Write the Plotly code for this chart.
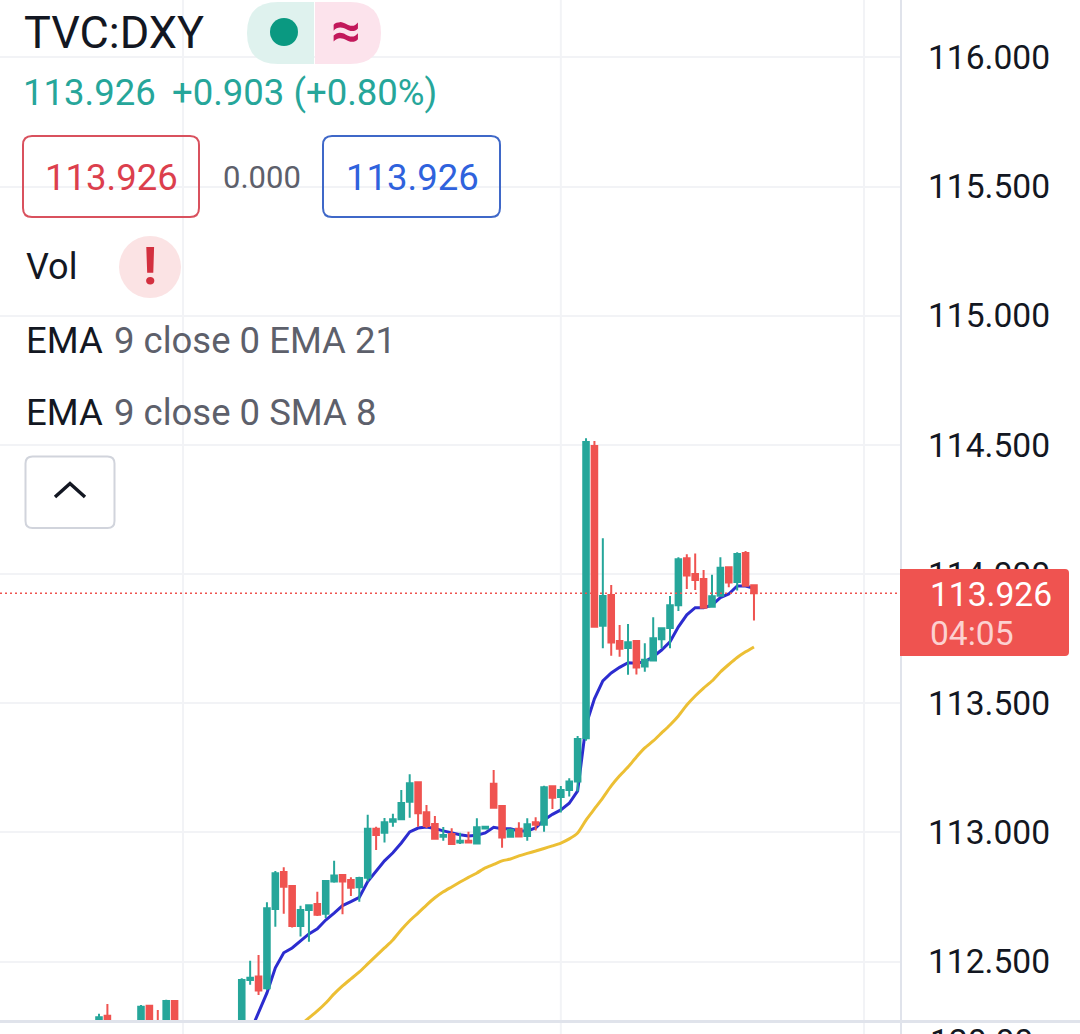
import plotly.graph_objects as go

# chart data
opens = [112.25, 112.29, 112.22, 112.24, 112.21, 112.24, 112.329, 112.26, 112.23, 112.348,
         112.20, 112.19, 112.18, 112.20, 112.18, 112.17, 112.20, 112.20, 112.429, 112.442,
         112.397, 112.704, 112.847, 112.793, 112.638, 112.700, 112.723, 112.685, 112.810, 112.835,
         112.816, 112.788, 112.825, 113.014, 112.999, 113.041, 113.051, 113.119, 113.194, 113.078,
         113.033, 112.983, 112.994, 112.961, 112.968, 112.957, 113.015, 113.188, 113.102, 112.983,
         113.014, 112.986, 113.039, 113.030, 113.179, 113.137, 113.164, 113.197, 113.365, 114.496,
         113.800, 113.919, 113.741, 113.714, 113.741, 113.642, 113.665, 113.748, 113.791, 113.879,
         114.061, 114.000, 113.981, 113.874, 113.916, 114.026, 113.969, 114.082, 113.957]
closes = [112.285, 112.25, 112.24, 112.21, 112.23, 112.325, 112.22, 112.23, 112.348, 112.20,
          112.19, 112.18, 112.20, 112.18, 112.17, 112.20, 112.21, 112.429, 112.438, 112.388,
          112.707, 112.842, 112.790, 112.638, 112.700, 112.718, 112.681, 112.812, 112.833, 112.810,
          112.786, 112.824, 113.014, 112.990, 113.039, 113.051, 113.114, 113.190, 113.074, 113.025,
          112.976, 112.990, 112.955, 112.968, 112.961, 113.020, 113.022, 113.096, 112.980, 113.010,
          112.984, 113.032, 113.030, 113.175, 113.134, 113.164, 113.197, 113.362, 114.511, 113.796,
          113.915, 113.735, 113.711, 113.736, 113.638, 113.668, 113.752, 113.790, 113.879, 114.057,
          113.994, 113.977, 113.870, 113.914, 114.024, 113.967, 114.078, 113.955, 113.926]
highs = [112.298, 112.336, 112.26, 112.26, 112.25, 112.332, 112.332, 112.313, 112.352, 112.35,
         112.24, 112.22, 112.22, 112.23, 112.21, 112.22, 112.24, 112.436, 112.503, 112.526,
         112.730, 112.851, 112.865, 112.797, 112.716, 112.719, 112.770, 112.816, 112.890, 112.836,
         112.827, 112.828, 113.068, 113.022, 113.056, 113.072, 113.164, 113.225, 113.195, 113.106,
         113.064, 113.021, 113.016, 112.999, 113.003, 113.055, 113.025, 113.242, 113.103, 113.015,
         113.039, 113.055, 113.059, 113.181, 113.180, 113.180, 113.210, 113.373, 114.526, 114.515,
         114.139, 113.958, 113.803, 113.807, 113.741, 113.732, 113.833, 113.794, 113.915, 114.065,
         114.077, 114.080, 114.016, 113.997, 114.065, 114.029, 114.084, 114.089, 113.957]
lows = [112.24, 112.24, 112.20, 112.20, 112.19, 112.23, 112.21, 112.22, 112.22, 112.19,
        112.17, 112.16, 112.15, 112.17, 112.15, 112.15, 112.18, 112.19, 112.410, 112.371,
        112.390, 112.635, 112.685, 112.632, 112.597, 112.577, 112.677, 112.669, 112.805, 112.683,
        112.754, 112.732, 112.810, 112.932, 112.961, 113.022, 113.048, 113.057, 113.022, 113.017,
        112.976, 112.968, 112.952, 112.955, 112.958, 112.957, 113.014, 113.094, 112.941, 112.980,
        112.984, 112.968, 113.007, 113.003, 113.091, 113.077, 113.139, 113.158, 113.355, 113.793,
        113.713, 113.684, 113.680, 113.610, 113.611, 113.622, 113.665, 113.713, 113.713, 113.857,
        113.942, 113.938, 113.868, 113.871, 113.912, 113.949, 113.936, 113.954, 113.820]
bars = list(range(len(opens)))

# blue one starts at bar 18, yellow one at bar 24
ema_fast = [112.227, 112.301, 112.379, 112.476, 112.534, 112.553, 112.580, 112.607, 112.627, 112.661,
            112.688, 112.717, 112.732, 112.749, 112.810, 112.851, 112.890, 112.921, 112.959, 113.002,
            113.017, 113.021, 113.015, 113.006, 112.998, 112.991, 112.986, 112.989, 112.998, 113.020,
            113.014, 113.014, 113.006, 113.006, 113.017, 113.048, 113.070, 113.087, 113.113, 113.161,
            113.416, 113.517, 113.587, 113.617, 113.639, 113.657, 113.655, 113.661, 113.680, 113.706,
            113.738, 113.796, 113.842, 113.870, 113.870, 113.880, 113.909, 113.923, 113.954, 113.954,
            113.945]
ema_slow = [112.255, 112.282, 112.309, 112.340, 112.375, 112.406, 112.433, 112.460, 112.491, 112.522,
            112.553, 112.584, 112.623, 112.658, 112.688, 112.719, 112.747, 112.770, 112.789, 112.808,
            112.826, 112.843, 112.863, 112.876, 112.890, 112.897, 112.909, 112.919, 112.928, 112.938,
            112.948, 112.959, 112.975, 112.998, 113.048, 113.091, 113.134, 113.180, 113.219, 113.253,
            113.292, 113.327, 113.354, 113.385, 113.416, 113.451, 113.493, 113.528, 113.559, 113.586,
            113.621, 113.650, 113.677, 113.699, 113.718]

price_ticks = [112.5, 113, 113.5, 114, 114.5, 115, 115.5, 116]
price_labels = ['112.500', '113.000', '113.500', '114.000', '114.500', '115.000', '115.500', '116.000']
time_grid = [10, 55, 91.1]
last_price = 113.926

W, H = 1080, 1034
FONT = 'Roboto'
GREEN = '#26a69a'
RED = '#ef5350'
GRID = '#f2f3f6'
BORDER = '#e0e3eb'
DARK = '#131722'
GREY = '#5d606b'

x_range = [-11.79, 95.39]
y_range = [112.274, 116.222]


def px(x):
    return x / W


def py(y):
    return 1 - y / H


def rounded(x0, y0, x1, y1, tl=0, tr=0, br=0, bl=0):
    # rounded box as a path, given in screen pixels
    def p(x, y):
        return f'{px(x)},{py(y)}'
    return (f'M{p(x0 + tl, y0)} L{p(x1 - tr, y0)} Q{p(x1, y0)} {p(x1, y0 + tr)} '
            f'L{p(x1, y1 - br)} Q{p(x1, y1)} {p(x1 - br, y1)} '
            f'L{p(x0 + bl, y1)} Q{p(x0, y1)} {p(x0, y1 - bl)} '
            f'L{p(x0, y0 + tl)} Q{p(x0, y0)} {p(x0 + tl, y0)} Z')


shapes = []
annotations = []


def box(x0, y0, x1, y1, fill='rgba(0,0,0,0)', line=None, lw=0, **radii):
    shapes.append(dict(type='path', xref='paper', yref='paper', layer='above',
                       path=rounded(x0, y0, x1, y1, **radii), fillcolor=fill,
                       line=dict(color=line or 'rgba(0,0,0,0)', width=lw)))


def circle(cx, cy, r, fill):
    shapes.append(dict(type='circle', xref='paper', yref='paper', layer='above',
                       x0=px(cx - r), x1=px(cx + r), y0=py(cy + r), y1=py(cy - r),
                       fillcolor=fill, line=dict(width=0)))


def text(x, y, s, size, color, anchor='left'):
    annotations.append(dict(xref='paper', yref='paper', x=px(x), y=py(y), text=s,
                            showarrow=False, xanchor=anchor, yanchor='middle',
                            font=dict(family=FONT, size=size, color=color),
                            borderpad=0, align=anchor))


# grid and pane borders
for g in time_grid:
    shapes.append(dict(type='line', xref='x', yref='paper', x0=g, x1=g, y0=0, y1=1,
                       layer='below', line=dict(color=GRID, width=2)))
shapes.append(dict(type='line', xref='paper', yref='paper', x0=0, x1=1, y0=py(1021.5), y1=py(1021.5),
                   layer='above', line=dict(color=BORDER, width=3)))
shapes.append(dict(type='line', xref='paper', yref='paper', x0=px(901), x1=px(901), y0=0, y1=1,
                   layer='above', line=dict(color=BORDER, width=2)))
shapes.append(dict(type='line', xref='paper', yref='y', x0=0, x1=px(900), y0=last_price, y1=last_price,
                   layer='above', line=dict(color=RED, width=1.5, dash='2px,3px')))

# price tag on the axis
box(900, 569, 1069, 656, fill=RED, tr=4, br=4)
text(929, 594, '113.926', 33.6, '#ffffff')
text(929, 633, '04:05', 33.6, '#fcd1d0')
text(929, 1041, '120.00', 33.6, DARK)

# header
text(23, 33, 'TVC:DXY', 45, DARK)
box(247, 2, 314, 64, fill='#dff2ee', tl=31, bl=31)
box(315, 2, 381, 64, fill='#fce3ec', tr=31, br=31)
circle(284, 32, 14, '#0a9981')
text(346, 31, '<b>≈</b>', 52, '#c2185b', anchor='center')
text(22, 93, '113.926', 36.5, GREEN)
text(171, 93, '+0.903 (+0.80%)', 36.5, GREEN)

box(23, 136, 199, 217, line='#d9515e', lw=2, tl=9, tr=9, br=9, bl=9)
text(111, 177, '113.926', 36.5, '#dc3f4d', anchor='center')
text(262, 177, '0.000', 31, GREY, anchor='center')
box(323, 136, 500, 217, line='#3f68c8', lw=2, tl=9, tr=9, br=9, bl=9)
text(412, 177, '113.926', 36.5, '#2f62dd', anchor='center')

text(25, 267, 'Vol', 36, DARK)
circle(150, 267, 31, '#fbe3e4')
text(150, 266, '<b>!</b>', 52, '#d3303f', anchor='center')

text(25, 340, 'EMA', 36.5, DARK)
text(113, 340, '9 close 0 EMA 21', 36.5, GREY)
text(25, 412, 'EMA', 36.5, DARK)
text(113, 412, '9 close 0 SMA 8', 36.5, GREY)

box(25.5, 456.5, 114.5, 528, fill='#ffffff', line='#d1d4dc', lw=2, tl=7, tr=7, br=7, bl=7)
shapes.append(dict(type='path', xref='paper', yref='paper', layer='above',
                   path=f'M{px(55)},{py(497)} L{px(70)},{py(483.5)} L{px(85)},{py(497)}',
                   line=dict(color=DARK, width=3.5)))

fig = go.Figure()
fig.add_trace(go.Scatter(x=bars[24:], y=ema_slow, mode='lines',
                         line=dict(color='#ecbf34', width=3, shape='spline', smoothing=0.6), hoverinfo='skip'))
fig.add_trace(go.Scatter(x=bars[18:], y=ema_fast, mode='lines',
                         line=dict(color='#2c2ccf', width=3), hoverinfo='skip'))
# candles sit on an overlaid axis pair so they cover the lines
fig.add_trace(go.Candlestick(x=bars, open=opens, high=highs, low=lows, close=closes,
                             xaxis='x2', yaxis='y2', whiskerwidth=0,
                             increasing=dict(line=dict(color=GREEN, width=2), fillcolor=GREEN),
                             decreasing=dict(line=dict(color=RED, width=2), fillcolor=RED)))

y_domain = [1 - 1020 / H, 1]
x_domain = [0, 900 / W]
fig.update_layout(
    width=W, height=H,
    margin=dict(l=0, r=0, t=0, b=0),
    paper_bgcolor='white', plot_bgcolor='white',
    showlegend=False, boxmode='overlay', boxgap=0.05,
    shapes=shapes, annotations=annotations,
    xaxis=dict(domain=x_domain, range=x_range, showgrid=False, zeroline=False, showticklabels=False),
    yaxis=dict(domain=y_domain, range=y_range, side='right', tickvals=price_ticks, ticktext=price_labels,
               showgrid=True, gridcolor=GRID, gridwidth=2, zeroline=False, ticks='',
               ticklabelstandoff=27, tickfont=dict(family=FONT, size=33.6, color=DARK)),
    xaxis2=dict(domain=x_domain, range=x_range, overlaying='x', anchor='y2', visible=False,
                rangeslider=dict(visible=False)),
    yaxis2=dict(domain=y_domain, range=y_range, overlaying='y', anchor='x2', visible=False),
)

fig.write_html('out.html', config={'displayModeBar': False},
               post_script="document.body.style.margin='0';")
